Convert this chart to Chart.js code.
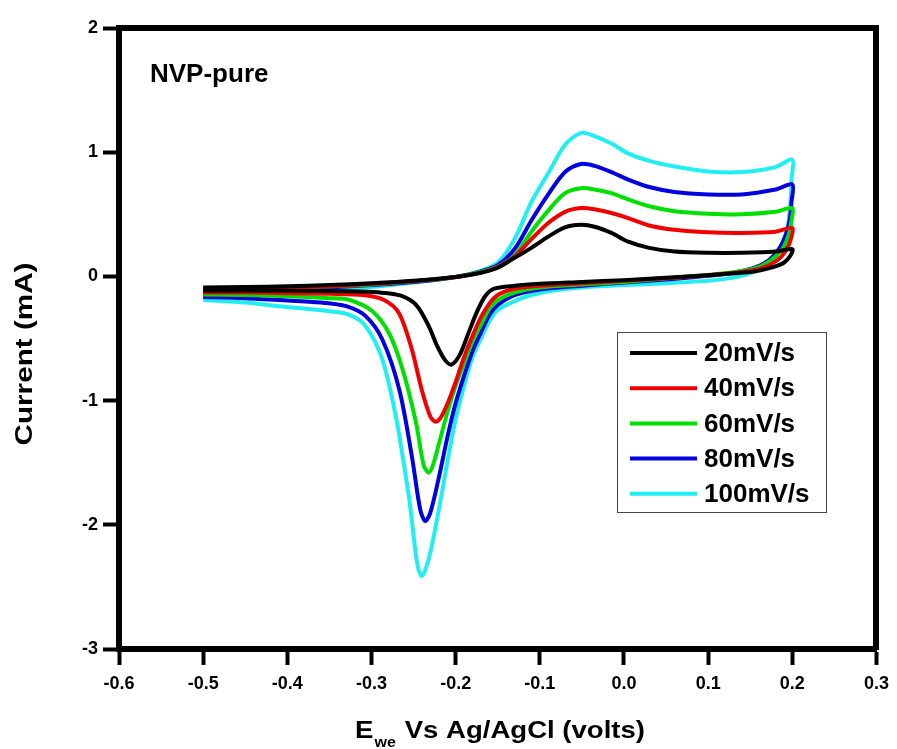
<!doctype html>
<html lang="en">
<head>
<meta charset="utf-8">
<title>NVP-pure cyclic voltammetry</title>
<script src="https://cdn.jsdelivr.net/npm/chart.js"></script>
<style>
    html, body { margin: 0; padding: 0; background: #fff; }
    #cv { display: block; }
</style>
</head>
<body>
<canvas id="cv" width="897" height="749"></canvas>
<script>
    // scan rates and colours
    const scanRates = ['20mV/s', '40mV/s', '60mV/s', '80mV/s', '100mV/s'];
    const lineColors = ['#000000', '#f00000', '#00e000', '#0000e0', '#20eef2'];

    // forward sweep potentials (V), same for every scan
    const forwardPotential = [-0.5, -0.45, -0.4, -0.35, -0.3, -0.25, -0.2, -0.17, -0.15, -0.13, -0.11, -0.09, -0.07, -0.051, -0.035, -0.015, 0.005, 0.03, 0.06, 0.1, 0.14, 0.18, 0.2];

    // 20 mV/s
    const forwardCurrent20 = [-0.09, -0.085, -0.08, -0.07, -0.055, -0.035, -0.005, 0.03, 0.07, 0.15, 0.23, 0.32, 0.395, 0.415, 0.40, 0.35, 0.28, 0.23, 0.20, 0.19, 0.19, 0.20, 0.22];
    const reversePotential20 = [0.198, 0.19, 0.175, 0.155, 0.13, 0.1, 0.05, 0.0, -0.05, -0.1, -0.13, -0.155, -0.165, -0.175, -0.185, -0.195, -0.205, -0.213, -0.222, -0.232, -0.247, -0.265, -0.29, -0.33, -0.4, -0.45, -0.5];
    const reverseCurrent20 = [0.17, 0.11, 0.07, 0.04, 0.025, 0.01, -0.01, -0.03, -0.045, -0.06, -0.075, -0.10, -0.16, -0.29, -0.46, -0.63, -0.71, -0.67, -0.56, -0.40, -0.23, -0.155, -0.13, -0.12, -0.115, -0.115, -0.115];

    // 40 mV/s
    const forwardCurrent40 = [-0.10, -0.095, -0.09, -0.08, -0.06, -0.04, -0.005, 0.03, 0.075, 0.16, 0.30, 0.43, 0.52, 0.55, 0.54, 0.51, 0.47, 0.41, 0.375, 0.355, 0.35, 0.36, 0.39];
    const reversePotential40 = [0.199, 0.195, 0.187, 0.175, 0.16, 0.14, 0.11, 0.06, 0.0, -0.05, -0.1, -0.13, -0.15, -0.16, -0.17, -0.18, -0.19, -0.2, -0.21, -0.218, -0.224, -0.23, -0.24, -0.252, -0.267, -0.285, -0.31, -0.35, -0.4, -0.45, -0.5];
    const reverseCurrent40 = [0.32, 0.24, 0.16, 0.10, 0.06, 0.035, 0.015, -0.01, -0.035, -0.055, -0.075, -0.10, -0.15, -0.22, -0.33, -0.48, -0.65, -0.85, -1.03, -1.14, -1.17, -1.13, -0.92, -0.59, -0.30, -0.19, -0.15, -0.14, -0.135, -0.13, -0.13];

    // 60 mV/s
    const forwardCurrent60 = [-0.11, -0.10, -0.09, -0.08, -0.065, -0.04, -0.005, 0.035, 0.08, 0.17, 0.36, 0.53, 0.67, 0.71, 0.70, 0.67, 0.62, 0.565, 0.525, 0.505, 0.50, 0.52, 0.55];
    const reversePotential60 = [0.199, 0.196, 0.19, 0.18, 0.165, 0.145, 0.12, 0.07, 0.0, -0.05, -0.1, -0.13, -0.15, -0.16, -0.17, -0.18, -0.19, -0.2, -0.21, -0.22, -0.227, -0.232, -0.238, -0.247, -0.263, -0.279, -0.299, -0.326, -0.35, -0.4, -0.45, -0.5];
    const reverseCurrent60 = [0.45, 0.34, 0.24, 0.16, 0.09, 0.05, 0.025, -0.005, -0.045, -0.065, -0.09, -0.13, -0.19, -0.26, -0.39, -0.52, -0.70, -0.88, -1.10, -1.35, -1.52, -1.58, -1.52, -1.18, -0.75, -0.46, -0.28, -0.19, -0.175, -0.16, -0.15, -0.145];

    // 80 mV/s
    const forwardCurrent80 = [-0.12, -0.11, -0.10, -0.09, -0.07, -0.045, -0.005, 0.04, 0.09, 0.22, 0.45, 0.66, 0.84, 0.905, 0.89, 0.84, 0.78, 0.72, 0.68, 0.66, 0.66, 0.70, 0.74];
    const reversePotential80 = [0.199, 0.197, 0.192, 0.185, 0.172, 0.155, 0.13, 0.1, 0.05, 0.0, -0.05, -0.1, -0.13, -0.15, -0.16, -0.17, -0.18, -0.19, -0.2, -0.21, -0.22, -0.23, -0.236, -0.242, -0.252, -0.267, -0.287, -0.307, -0.33, -0.36, -0.41, -0.45, -0.5];
    const reverseCurrent80 = [0.60, 0.46, 0.33, 0.23, 0.13, 0.07, 0.03, 0.005, -0.025, -0.05, -0.075, -0.105, -0.15, -0.23, -0.31, -0.45, -0.60, -0.80, -1.02, -1.30, -1.62, -1.90, -1.97, -1.88, -1.45, -0.91, -0.51, -0.32, -0.24, -0.21, -0.19, -0.175, -0.165];

    // 100 mV/s
    const forwardCurrent100 = [-0.14, -0.13, -0.12, -0.11, -0.085, -0.05, -0.005, 0.045, 0.11, 0.30, 0.60, 0.83, 1.06, 1.155, 1.13, 1.07, 0.99, 0.93, 0.885, 0.845, 0.84, 0.88, 0.94];
    const reversePotential100 = [0.199, 0.198, 0.196, 0.194, 0.182, 0.167, 0.143, 0.108, 0.05, -0.03, -0.08, -0.11, -0.13, -0.15, -0.16, -0.17, -0.18, -0.19, -0.2, -0.21, -0.22, -0.23, -0.237, -0.241, -0.246, -0.255, -0.263, -0.271, -0.287, -0.307, -0.326, -0.35, -0.41, -0.45, -0.5];
    const reverseCurrent100 = [0.78, 0.61, 0.48, 0.375, 0.19, 0.08, 0.01, -0.03, -0.055, -0.08, -0.11, -0.15, -0.20, -0.27, -0.36, -0.50, -0.65, -0.88, -1.15, -1.50, -1.88, -2.22, -2.38, -2.41, -2.30, -1.80, -1.45, -1.13, -0.67, -0.40, -0.31, -0.28, -0.24, -0.21, -0.19];

    const forwardCurrents = [forwardCurrent20, forwardCurrent40, forwardCurrent60, forwardCurrent80, forwardCurrent100];
    const reversePotentials = [reversePotential20, reversePotential40, reversePotential60, reversePotential80, reversePotential100];
    const reverseCurrents = [reverseCurrent20, reverseCurrent40, reverseCurrent60, reverseCurrent80, reverseCurrent100];

    const boldFont = size => 'bold ' + size + 'px "Liberation Sans", Arial, sans-serif';

    function loop(k) {
        const pts = forwardPotential.map((x, i) => ({ x: x, y: forwardCurrents[k][i] }));
        reversePotentials[k].forEach((x, i) => pts.push({ x: x, y: reverseCurrents[k][i] }));
        return pts;
    }

    const datasets = scanRates.map((label, k) => ({
        label: label,
        data: loop(k),
        showLine: true,
        borderColor: lineColors[k],
        backgroundColor: lineColors[k],
        borderWidth: 4,
        pointRadius: 0,
        tension: 0.3,
        fill: false
    }));

    // labels, legend and axis titles drawn on top
    const textPlugin = {
        id: 'textPlugin',
        afterDraw(chart) {
            const ctx = chart.ctx;
            ctx.save();
            ctx.fillStyle = '#000';

            ctx.font = boldFont(26);
            ctx.textAlign = 'left';
            ctx.textBaseline = 'alphabetic';
            ctx.fillText('NVP-pure', 150, 82);

            // legend box
            ctx.strokeStyle = '#444';
            ctx.lineWidth = 1;
            ctx.strokeRect(617.5, 332.5, 209, 180);
            ctx.textBaseline = 'middle';
            chart.data.datasets.forEach((ds, i) => {
                const y = 353 + 35.2 * i;
                ctx.strokeStyle = ds.borderColor;
                ctx.lineWidth = 4;
                ctx.beginPath();
                ctx.moveTo(630, y);
                ctx.lineTo(697, y);
                ctx.stroke();
                ctx.fillStyle = '#000';
                ctx.font = boldFont(26);
                ctx.fillText(ds.label, 704, y + 1);
            });

            // x title with subscript
            ctx.textBaseline = 'alphabetic';
            ctx.font = boldFont(24);
            const wE = ctx.measureText('E').width;
            const rest = ' Vs Ag/AgCl (volts)';
            const wRest = ctx.measureText(rest).width;
            ctx.font = boldFont(14);
            const wSub = ctx.measureText('we').width;
            const sx = 290 / (wE + wSub + 2 + wRest);
            ctx.save();
            ctx.translate(355, 738);
            ctx.scale(sx, 1);
            ctx.font = boldFont(24);
            ctx.fillText('E', 0, 0);
            ctx.font = boldFont(14);
            ctx.fillText('we', wE + 1, 9);
            ctx.font = boldFont(24);
            ctx.fillText(rest, wE + wSub + 2, 0);
            ctx.restore();

            // y title
            ctx.save();
            ctx.translate(32, 354);
            ctx.rotate(-Math.PI / 2);
            ctx.font = boldFont(24);
            const yt = 'Current (mA)';
            const sy = 183 / ctx.measureText(yt).width;
            ctx.scale(sy, 1);
            ctx.textAlign = 'center';
            ctx.fillText(yt, 0, 0);
            ctx.restore();

            ctx.restore();
        }
    };

    const tickFont = { family: '"Liberation Sans", Arial, sans-serif', weight: 'bold', size: 18 };

    new Chart(document.getElementById('cv'), {
        type: 'scatter',
        data: { datasets: datasets },
        options: {
            responsive: false,
            animation: false,
            layout: { padding: 0 },
            plugins: {
                legend: { display: false },
                tooltip: { enabled: false }
            },
            scales: {
                x: {
                    type: 'linear',
                    position: 'bottom',
                    min: -0.6,
                    max: 0.3,
                    ticks: {
                        stepSize: 0.1,
                        color: '#000',
                        font: tickFont,
                        padding: 8,
                        maxRotation: 0,
                        autoSkip: false,
                        callback: v => (Math.abs(v) < 1e-9 ? 0 : v).toFixed(1)
                    },
                    grid: { drawOnChartArea: false, drawTicks: true, tickLength: 16, tickWidth: 4, tickColor: '#000' },
                    border: { display: true, color: '#000', width: 6 },
                    afterFit: s => { s.height = 100; }
                },
                y: {
                    type: 'linear',
                    position: 'left',
                    min: -3,
                    max: 2,
                    ticks: {
                        stepSize: 1,
                        color: '#000',
                        font: tickFont,
                        padding: 5
                    },
                    grid: { drawOnChartArea: false, drawTicks: true, tickLength: 16, tickWidth: 4, tickColor: '#000' },
                    border: { display: true, color: '#000', width: 6 },
                    afterFit: s => { s.width = 119; }
                },
                xTop: {
                    type: 'linear',
                    position: 'top',
                    min: -0.6,
                    max: 0.3,
                    ticks: { display: false },
                    grid: { display: false },
                    border: { display: true, color: '#000', width: 6 },
                    afterFit: s => { s.height = 28; }
                },
                yRight: {
                    type: 'linear',
                    position: 'right',
                    min: -3,
                    max: 2,
                    ticks: { display: false },
                    grid: { display: false },
                    border: { display: true, color: '#000', width: 6 },
                    afterFit: s => { s.width = 17; }
                }
            }
        },
        plugins: [textPlugin]
    });
</script>
</body>
</html>
